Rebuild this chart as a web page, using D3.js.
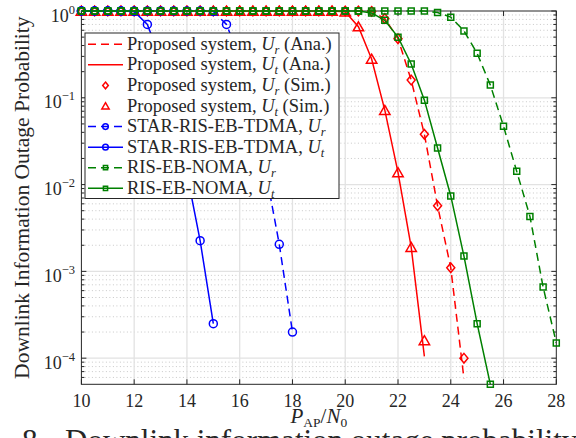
<!DOCTYPE html>
<html>
<head>
<meta charset="utf-8">
<script src="https://cdn.jsdelivr.net/npm/d3@7"></script>
<style>
  html, body { margin: 0; padding: 0; background: #fff; overflow: hidden; }
  svg { display: block; }
  text { font-family: "Liberation Serif", "Times New Roman", serif; fill: #262626; }
</style>
</head>
<body>
<svg id="chart" width="576" height="438"></svg>
<script>
// P_AP/N_0 grid (dB) shared by every curve; each series uses the first N entries.
const snrGrid = [10, 10.5, 11, 11.5, 12, 12.5, 13, 13.5, 14, 14.5, 15, 15.5, 16, 16.5,
  17, 17.5, 18, 18.5, 19, 19.5, 20, 20.5, 21, 21.5, 22, 22.5, 23, 23.5, 24, 24.5,
  25, 25.5, 26, 26.5, 27, 27.5, 28];

// Proposed system, analytical outage probabilities
const propUrAna = [1, 1, 1, 1, 1, 1, 1, 1, 1, 1, 1, 1, 1, 1, 1, 1, 1, 1, 1, 1, 1, 1,
  0.99, 0.82, 0.48, 0.16, 0.038, 0.0057, 0.0011, 5.8e-5];
const propUtAna = [1, 1, 1, 1, 1, 1, 1, 1, 1, 1, 1, 1, 1, 1, 1, 1, 1, 1, 1, 1,
  0.98, 0.66, 0.28, 0.072, 0.0138, 0.0019, 1.05e-4];
// Proposed system, Monte-Carlo simulation
const propUrSim = [1, 1, 1, 1, 1, 1, 1, 1, 1, 1, 1, 1, 1, 1, 1, 1, 1, 1, 1, 1, 1, 1,
  0.99, 0.82, 0.48, 0.16, 0.038, 0.0057, 0.0011, 1.0e-4];
const propUtSim = [1, 1, 1, 1, 1, 1, 1, 1, 1, 1, 1, 1, 1, 1, 1, 1, 1, 1, 1, 1,
  0.98, 0.66, 0.28, 0.072, 0.0138, 0.0019, 1.6e-4];
// STAR-RIS-EB-TDMA benchmark
const tdmaUr = [1, 1, 1, 1, 1, 1, 1, 1, 1, 1,
  0.99, 0.70, 0.28, 0.073, 0.0135, 0.00205, 2.0e-4];
const tdmaUt = [1, 1, 1, 1,
  0.99, 0.70, 0.28, 0.073, 0.0135, 0.00226, 2.5e-4];
// RIS-EB-NOMA benchmark
const nomaUr = [1, 1, 1, 1, 1, 1, 1, 1, 1, 1, 1, 1, 1, 1, 1, 1, 1, 1, 1, 1, 1, 1, 1, 1, 1, 1, 1,
  0.96, 0.85, 0.59, 0.325, 0.14, 0.047, 0.0142, 0.0043, 6.6e-4, 1.5e-4];
const nomaUt = [1, 1, 1, 1, 1, 1, 1, 1, 1, 1, 1, 1, 1, 1, 1, 1, 1, 1, 1, 1, 1, 1,
  0.95, 0.78, 0.50, 0.245, 0.094, 0.0264, 0.0074, 0.0015, 2.5e-4, 5e-5];

const xTicks = [10, 12, 14, 16, 18, 20, 22, 24, 26, 28];
const yTickExps = [0, -1, -2, -3, -4];
// caption below the axes (the line runs past the canvas edge)
const captionNumber = "8.";
const captionText = "Downlink information outage probability";

const svg = d3.select("#chart");
const L = 81.4, R = 556.3, T = 11, B = 384.3;
const x = d3.scaleLinear().domain([10, 28]).range([L, R]);
const y = d3.scaleLog().domain([5e-5, 1]).range([B, T]);

const RED = "#ff0000", BLUE = "#0000ff", GREEN = "#008000";

// ---- grid ----
const grid = svg.append("g");
// minor (dotted) horizontal grid at 2..9 x 10^k
const minorVals = [];
for (let k = -5; k <= -1; k++) for (let m = 2; m <= 9; m++) {
  const v = m * Math.pow(10, k);
  if (v > 5e-5 && v < 1) minorVals.push(v);
}
grid.selectAll(".mg").data(minorVals).join("line")
  .attr("x1", L).attr("x2", R).attr("y1", d => y(d)).attr("y2", d => y(d))
  .attr("stroke", "#c8c8c8").attr("stroke-width", 1).attr("stroke-dasharray", "1,2.5");
grid.selectAll(".gy").data(yTickExps.filter(e => e < 0)).join("line")
  .attr("x1", L).attr("x2", R).attr("y1", d => y(Math.pow(10, d))).attr("y2", d => y(Math.pow(10, d)))
  .attr("stroke", "#e2e2e2").attr("stroke-width", 1.3);
grid.selectAll(".gx").data(xTicks.slice(1, -1)).join("line")
  .attr("x1", d => x(d)).attr("x2", d => x(d)).attr("y1", T).attr("y2", B)
  .attr("stroke", "#e2e2e2").attr("stroke-width", 1.3);

// ---- axes box & ticks ----
const axes = svg.append("g").attr("stroke", "#262626").attr("stroke-width", 1);
axes.append("rect").attr("x", L).attr("y", T).attr("width", R - L).attr("height", B - T).attr("fill", "none");
xTicks.forEach(t => {
  axes.append("line").attr("x1", x(t)).attr("x2", x(t)).attr("y1", B).attr("y2", B - 5);
  axes.append("line").attr("x1", x(t)).attr("x2", x(t)).attr("y1", T).attr("y2", T + 5);
});
yTickExps.forEach(e => {
  const yy = y(Math.pow(10, e));
  axes.append("line").attr("x1", L).attr("x2", L + 5).attr("y1", yy).attr("y2", yy);
  axes.append("line").attr("x1", R).attr("x2", R - 5).attr("y1", yy).attr("y2", yy);
});
minorVals.forEach(v => {
  const yy = y(v);
  axes.append("line").attr("x1", L).attr("x2", L + 3).attr("y1", yy).attr("y2", yy);
  axes.append("line").attr("x1", R).attr("x2", R - 3).attr("y1", yy).attr("y2", yy);
});

// tick labels
svg.append("g").selectAll("text").data(xTicks).join("text")
  .attr("x", d => x(d)).attr("y", 407).attr("text-anchor", "middle")
  .attr("font-size", 18).text(d => d);
const yl = svg.append("g").selectAll("text").data(yTickExps).join("text")
  .attr("x", 75).attr("y", d => y(Math.pow(10, d)) + 10.5).attr("text-anchor", "end")
  .attr("font-size", 18);
yl.append("tspan").text("10");
yl.append("tspan").attr("dy", -8).attr("font-size", 12.5).text(d => d === 0 ? "0" : "\u2212" + (-d));

// axis titles
const xt = svg.append("text").attr("x", (L + R) / 2).attr("y", 423).attr("text-anchor", "middle").attr("font-size", 21);
xt.append("tspan").attr("font-style", "italic").text("P");
xt.append("tspan").attr("font-size", 13.5).attr("dy", 4).text("AP");
xt.append("tspan").attr("dy", -4).text("/");
xt.append("tspan").attr("font-style", "italic").text("N");
xt.append("tspan").attr("font-size", 13.5).attr("dy", 4).text("0");

svg.append("text").attr("transform", `translate(29,${(T + B) / 2}) rotate(-90)`)
  .attr("text-anchor", "middle").attr("font-size", 21.5)
  .text("Downlink Information Outage Probability");

// caption (only its upper part falls inside the canvas)
const cap = svg.append("g").attr("font-size", 31);
cap.append("text").attr("x", 22).attr("y", 451).attr("fill", "#1a1a1a").text(captionNumber);
cap.append("text").attr("x", 65).attr("y", 451).attr("fill", "#1a1a1a").text(captionText);

// ---- marker shapes ----
function markerPath(kind, s) {
  switch (kind) {
    case "diamond": return `M0,${-4.8 * s}L${4 * s},0L0,${4.8 * s}L${-4 * s},0Z`;
    case "triangle": return `M0,${-4.8 * s}L${5.2 * s},${4.2 * s}L${-5.2 * s},${4.2 * s}Z`;
    case "square": return `M${-3 * s},${-3 * s}h${6 * s}v${6 * s}h${-6 * s}Z`;
    case "circle": return `M${4 * s},0A${4 * s},${4 * s} 0 1 1 ${-4 * s},0A${4 * s},${4 * s} 0 1 1 ${4 * s},0Z`;
  }
}

svg.append("clipPath").attr("id", "plotClip").append("rect")
  .attr("x", L).attr("y", T - 1).attr("width", R - L).attr("height", B - T + 2);

const line = d3.line().x(d => x(d[0])).y(d => y(d[1]));
const pairs = vals => vals.map((v, i) => [snrGrid[i], v]);

const series = [
  { vals: propUrAna, color: RED, dash: "8,5", marker: null, label: ["Proposed system, ", "U", "r", " (Ana.)"] },
  { vals: propUtAna, color: RED, dash: null, marker: null, label: ["Proposed system, ", "U", "t", " (Ana.)"] },
  { vals: propUrSim, color: RED, dash: null, marker: "diamond", noLine: true, label: ["Proposed system, ", "U", "r", " (Sim.)"] },
  { vals: propUtSim, color: RED, dash: null, marker: "triangle", noLine: true, label: ["Proposed system, ", "U", "t", " (Sim.)"] },
  { vals: tdmaUr, color: BLUE, dash: "8,5", marker: "circle", label: ["STAR-RIS-EB-TDMA, ", "U", "r", ""] },
  { vals: tdmaUt, color: BLUE, dash: null, marker: "circle", label: ["STAR-RIS-EB-TDMA, ", "U", "t", ""] },
  { vals: nomaUr, color: GREEN, dash: "8,5", marker: "square", label: ["RIS-EB-NOMA, ", "U", "r", ""] },
  { vals: nomaUt, color: GREEN, dash: null, marker: "square", label: ["RIS-EB-NOMA, ", "U", "t", ""] }
];

const plot = svg.append("g");
series.forEach(s => {
  const pts = pairs(s.vals);
  if (!s.noLine) {
    plot.append("path").attr("d", line(pts)).attr("fill", "none")
      .attr("stroke", s.color).attr("stroke-width", 1.5)
      .attr("stroke-dasharray", s.dash).attr("clip-path", "url(#plotClip)");
  }
  if (s.marker) {
    plot.append("g").selectAll("path").data(pts).join("path")
      .attr("transform", d => `translate(${x(d[0])},${y(d[1])})`)
      .attr("d", markerPath(s.marker, 1)).attr("fill", "none")
      .attr("stroke", s.color).attr("stroke-width", 1.5);
  }
});

// ---- legend ----
const lg = svg.append("g");
lg.append("rect").attr("x", 85).attr("y", 33).attr("width", 254).attr("height", 165.5)
  .attr("fill", "#fff").attr("stroke", "#262626").attr("stroke-width", 1);
series.forEach((s, i) => {
  const cy = 44.3 + i * 20.57;
  if (!s.noLine) {
    lg.append("line").attr("x1", 88).attr("x2", 123).attr("y1", cy).attr("y2", cy)
      .attr("stroke", s.color).attr("stroke-width", 1.5).attr("stroke-dasharray", s.dash);
  }
  if (s.marker) {
    lg.append("path").attr("transform", `translate(105.5,${cy})`)
      .attr("d", markerPath(s.marker, 0.7)).attr("fill", "none")
      .attr("stroke", s.color).attr("stroke-width", 1.5);
  }
  const t = lg.append("text").attr("x", 127).attr("y", cy + 5.5).attr("font-size", 18.5);
  t.append("tspan").text(s.label[0]);
  t.append("tspan").attr("font-style", "italic").text(s.label[1]);
  t.append("tspan").attr("font-style", "italic").attr("font-size", 12.5).attr("dy", 4).text(s.label[2]);
  t.append("tspan").attr("dy", -4).text(s.label[3]);
});
</script>
</body>
</html>
